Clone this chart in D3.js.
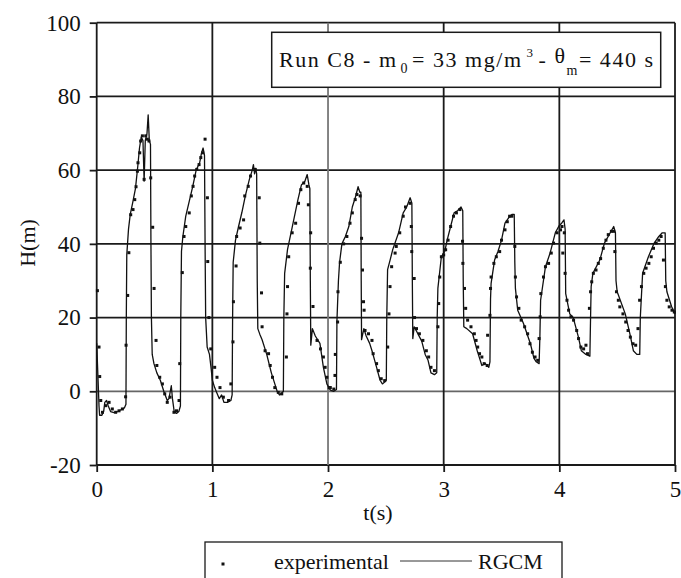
<!DOCTYPE html>
<html>
<head>
<meta charset="utf-8">
<script src="https://cdn.jsdelivr.net/npm/d3@7"></script>
<style>
  body { margin: 0; background: #fff; }
  svg text { font-family: "Liberation Serif", "Tinos", "DejaVu Serif", "Noto Serif", serif; fill: #111; }
</style>
</head>
<body>
<div id="chart"></div>
<script>
// tick values
const xTicks = [0, 1, 2, 3, 4, 5];
const yTicks = [-20, 0, 20, 40, 60, 80, 100];

// RGCM model curve, [t (s), H (m)]
const rgcm = [
  [0.000,13],[0.012,3],[0.02,-4],[0.025,-6.5],[0.045,-6.5],[0.06,-5.5],[0.07,-3],[0.085,-2.5],[0.10,-4],[0.12,-5.5],[0.15,-5.8],[0.18,-5.5],[0.21,-5],[0.24,-4.5],[0.253,-3.5],
  [0.256,20],[0.26,37],[0.275,44],[0.29,48],[0.31,51],[0.335,55],[0.355,61],[0.37,66],[0.385,69],[0.40,68],[0.41,57],[0.42,68],[0.435,70],[0.445,75],[0.455,68],[0.465,67],
  [0.469,40],[0.473,20],[0.48,10],[0.495,7.5],[0.52,5],[0.55,3],[0.58,0],[0.61,-2.5],[0.625,-2],[0.645,1.5],[0.655,-2],[0.67,-5.5],[0.69,-6],[0.71,-5.5],[0.724,-4],
  [0.727,20],[0.733,38],[0.745,42],[0.77,47.5],[0.80,51.5],[0.83,55.5],[0.86,60],[0.89,62],[0.905,64.5],[0.92,66],[0.932,64],
  [0.937,40],[0.942,20],[0.955,12],[0.975,10],[0.99,6],[1.00,3],[1.02,1],[1.04,-0.5],[1.06,-2],[1.08,-1],[1.10,-3],[1.13,-3],[1.16,-2.5],[1.171,-1],
  [1.175,20],[1.18,35],[1.20,41],[1.225,44.5],[1.255,48.5],[1.285,53],[1.32,57.5],[1.345,60],[1.355,61.5],[1.365,59],[1.375,60.5],[1.383,59],
  [1.388,30],[1.393,17],[1.41,15.5],[1.43,14],[1.47,10],[1.51,5],[1.54,2],[1.56,0],[1.58,-1],[1.60,-0.5],[1.614,0],
  [1.618,20],[1.625,32],[1.65,38.5],[1.69,44.5],[1.74,52],[1.77,56],[1.80,57],[1.82,58.8],[1.835,56],[1.843,55],
  [1.847,30],[1.851,12.5],[1.865,17],[1.89,15],[1.93,13],[1.96,6.5],[1.99,2],[2.02,0.3],[2.05,0],[2.073,0.5],
  [2.077,19],[2.09,30],[2.10,35],[2.12,40],[2.15,42],[2.18,44.7],[2.21,50],[2.24,53],[2.26,55.5],[2.275,54],[2.284,54],
  [2.287,30],[2.29,14],[2.31,17],[2.33,15],[2.36,13],[2.38,11],[2.42,6.5],[2.45,3],[2.47,2],[2.49,2.5],[2.504,3],
  [2.508,20],[2.515,33],[2.54,36],[2.56,38.5],[2.61,43],[2.65,48.4],[2.68,50],[2.71,52.5],[2.725,51],
  [2.729,30],[2.733,14.3],[2.745,17.5],[2.77,16],[2.81,13.6],[2.84,10],[2.865,8.4],[2.89,5],[2.92,4.5],[2.94,5],
  [2.944,20],[2.95,28],[2.98,36.5],[3.01,38],[3.03,41],[3.06,44.7],[3.09,48.4],[3.12,49],[3.15,50],[3.165,49],
  [3.169,30],[3.174,17.5],[3.20,17],[3.25,15.6],[3.29,11],[3.31,9],[3.33,7],[3.36,7.5],[3.39,6.5],[3.40,8],
  [3.405,25],[3.41,29.3],[3.44,35.6],[3.47,38],[3.50,41],[3.53,45.6],[3.56,47],[3.59,48],[3.61,48],
  [3.615,35],[3.62,28],[3.64,22],[3.69,18.4],[3.75,12.9],[3.78,9],[3.80,8],[3.825,7.5],
  [3.832,15],[3.838,24.7],[3.88,33.8],[3.92,37.5],[3.965,43],[4.00,45],[4.02,45.6],[4.04,46.5],[4.05,44],
  [4.055,26.5],[4.09,21],[4.12,20],[4.165,14.7],[4.19,11],[4.23,10],[4.264,9.5],
  [4.27,20],[4.275,28.4],[4.29,32],[4.35,35.6],[4.39,40.2],[4.44,43],[4.47,44.7],[4.485,43],
  [4.49,30],[4.50,27],[4.57,21],[4.61,15.6],[4.64,11],[4.67,10],[4.695,10],
  [4.70,20],[4.72,32],[4.77,36.5],[4.82,40.2],[4.86,42],[4.89,43],[4.915,43],
  [4.92,30],[4.93,27],[4.97,23],[5.0,21]
];

// experimental points, [t (s), H (m)]
const experimental = [
  [0.006,27.3],[0.02,12],[0.026,4],[0.035,-2.5],[0.05,-5.7],[0.078,-3.9],[0.107,-3],[0.135,-4.8],[0.164,-5.7],[0.193,-5.3],[0.222,-4.8],
  [0.25,-1.5],[0.254,12.5],[0.268,26],[0.278,37.6],[0.294,47.9],[0.314,49.3],[0.329,52],[0.34,55.5],[0.352,59.7],[0.357,62],[0.372,64.7],
  [0.38,67.9],[0.395,69.3],[0.41,57.5],[0.424,69.3],[0.438,68.4],[0.452,67.9],[0.467,57.9],[0.484,44.5],[0.496,27.9],[0.513,13.8],[0.52,7],
  [0.545,3.8],[0.568,2],[0.588,-0.7],[0.61,-3],[0.634,-1.6],[0.668,-5.7],[0.69,-5.3],[0.712,-2.5],[0.718,7.5],[0.74,32.2],[0.755,42],
  [0.77,44.7],[0.8,48.4],[0.818,53],[0.833,55.6],[0.847,58.4],[0.865,60.2],[0.885,61.5],[0.9,63.4],[0.916,64.7],[0.937,68.4],
  [0.957,52.5],[0.96,35.2],[0.97,20],[0.986,11.5],
  [1.02,6.5],[1.04,3.8],[1.066,1],[1.095,-1.6],[1.14,-2.5],[1.16,2],[1.178,13.4],[1.182,24.3],[1.205,34],[1.21,42],[1.24,44.3],
  [1.27,46.5],[1.28,53],[1.31,55.6],[1.33,58.4],[1.37,60.2],[1.405,52.5],[1.41,40.2],[1.425,26.7],[1.43,17.5],[1.456,11],[1.486,10.2],
  [1.5,7],[1.52,3.8],[1.54,1],[1.57,-0.3],[1.6,-0.7],[1.64,9.3],[1.645,21],[1.65,28.4],[1.66,36.5],[1.69,43],[1.72,45.6],[1.745,51],
  [1.765,54.7],[1.79,56.5],[1.82,55.6],[1.83,50.6],[1.85,43],[1.847,33.4],[1.87,23],[1.905,13.8],[1.935,11.5],[1.96,9.3],[1.975,6.5],
  [1.99,3.8],[2.01,1],
  [2.02,1],[2.05,0.6],[2.06,4.3],[2.063,10],[2.083,18.8],[2.086,27],[2.106,35],[2.135,40],[2.163,42],[2.19,45.6],[2.21,48.4],[2.235,52],
  [2.25,53.4],[2.278,53],[2.29,41.5],[2.298,32.9],[2.307,24.3],[2.312,22],[2.32,16.5],[2.35,15.6],[2.38,13.8],[2.39,10.2],[2.42,7.5],
  [2.435,5.6],[2.46,3.4],[2.49,2.9],[2.516,12],[2.527,21],[2.536,28.4],[2.55,33.8],[2.58,37.5],[2.59,39.3],[2.62,43],[2.65,47.5],
  [2.67,50],[2.71,51],[2.72,44.7],[2.724,37.9],[2.745,30.6],[2.748,20],[2.765,17],[2.79,15.6],[2.82,13.8],[2.85,11],[2.87,9.3],
  [2.89,6.5],[2.92,5.6],[2.95,17.5],[2.957,23.8],[2.966,31],[2.98,36.5],[3.0,37],
  [3.017,38.4],[3.038,41],[3.06,44.7],[3.085,47.5],[3.11,48.4],[3.14,49.3],[3.163,40.7],[3.166,34.7],[3.18,27.9],[3.19,22.5],[3.207,19.3],
  [3.236,17.5],[3.265,15.6],[3.28,13.8],[3.294,12],[3.31,10.2],[3.33,9.3],[3.35,7.5],[3.376,7],[3.38,15.2],[3.4,20.6],[3.405,27.9],
  [3.41,31],[3.434,34.7],[3.455,36.5],[3.484,37.9],[3.5,41],[3.53,43.8],[3.55,46],[3.57,47.5],[3.59,47.5],[3.615,39.3],[3.62,31],
  [3.63,25.6],[3.65,22.5],[3.67,19.3],[3.7,17.5],[3.726,15.6],[3.746,12.9],[3.767,10.6],[3.79,9.3],[3.813,8.4],[3.825,14.3],[3.834,20.2],
  [3.84,26.5],[3.863,31],[3.88,33.8],[3.907,34.7],[3.93,37.5],[3.95,40.2],[3.98,43],[4.01,43.8],
  [4.023,44.7],[4.043,43],[4.03,37.5],[4.05,32],[4.066,24.7],[4.08,22],[4.1,20.2],[4.123,19.3],[4.15,16.5],[4.166,14.3],[4.186,12],
  [4.21,11.5],[4.23,12.5],[4.243,10.2],[4.26,22.5],[4.27,27],[4.28,29.7],[4.294,32],[4.317,32.9],[4.337,34.7],[4.357,36],[4.38,38.8],
  [4.403,41],[4.423,42.5],[4.45,43.4],[4.47,43.4],[4.48,37.9],[4.494,27],[4.51,24.7],[4.523,22.9],[4.55,21],[4.574,18.8],[4.594,16.5],
  [4.614,14.7],[4.637,12.9],[4.66,12.5],[4.68,17],[4.694,24.7],[4.71,28.4],[4.73,32],[4.75,33.4],[4.774,34.7],[4.794,36.5],[4.814,38.8],
  [4.837,40.2],[4.86,41],[4.88,42],[4.9,35.6],[4.917,28.4],[4.93,24.7],[4.95,22.9],[4.974,22],[4.994,21.5]
];

const width = 681, height = 578;
const margin = {top: 22.7, right: 6, bottom: 113, left: 96.7};

const svg = d3.select("#chart")
  .append("svg")
  .attr("width", width)
  .attr("height", height);

// scales
const x = d3.scaleLinear().domain([0, 5]).range([margin.left, width - margin.right]);
const y = d3.scaleLinear().domain([-20, 100]).range([height - margin.bottom, margin.top]);

// grid (also forms the frame)
svg.append("g")
  .selectAll("line")
  .data(yTicks)
  .join("line")
    .attr("x1", x(0)).attr("x2", x(5))
    .attr("y1", d => y(d)).attr("y2", d => y(d))
    .attr("stroke", d => d === 0 ? "#666" : "#1a1a1a")
    .attr("stroke-width", 1.8);

svg.append("g")
  .selectAll("line")
  .data(xTicks)
  .join("line")
    .attr("x1", d => x(d)).attr("x2", d => x(d))
    .attr("y1", y(-20)).attr("y2", y(100))
    .attr("stroke", d => d === 2 ? "#777" : "#1a1a1a")
    .attr("stroke-width", 1.8);

// axes
const xAxis = svg.append("g")
  .attr("transform", `translate(0,${y(-20)})`)
  .call(d3.axisBottom(x).tickValues(xTicks).tickSize(7).tickPadding(9).tickFormat(d3.format("d")));
const yAxis = svg.append("g")
  .attr("transform", `translate(${x(0)},0)`)
  .call(d3.axisLeft(y).tickValues(yTicks).tickSize(7).tickPadding(9).tickFormat(d => String(d)));

[xAxis, yAxis].forEach(g => {
  g.attr("font-family", null);
  g.select(".domain").remove();
  g.selectAll(".tick line").attr("stroke", "#1a1a1a").attr("stroke-width", 1.8);
  g.selectAll(".tick text")
    .attr("font-size", "23px")
    .attr("fill", "#111");
});

// axis titles
svg.append("text")
  .attr("x", 378).attr("y", 520)
  .attr("text-anchor", "middle")
  .attr("font-size", "22px")
  .text("t(s)");

svg.append("text")
  .attr("transform", "translate(35,243) rotate(-90)")
  .attr("text-anchor", "middle")
  .attr("font-size", "22px")
  .text("H(m)");

// RGCM line
svg.append("path")
  .datum(rgcm)
  .attr("fill", "none")
  .attr("stroke", "#111")
  .attr("stroke-width", 1.3)
  .attr("stroke-linejoin", "round")
  .attr("d", d3.line().x(d => x(d[0])).y(d => y(d[1])));

// experimental dots
svg.append("g")
  .selectAll("rect")
  .data(experimental)
  .join("rect")
    .attr("x", d => x(d[0]) - 1.5)
    .attr("y", d => y(d[1]) - 1.5)
    .attr("width", 3)
    .attr("height", 3)
    .attr("fill", "#111");

// run label box
svg.append("rect")
  .attr("x", 271.7).attr("y", 32.3)
  .attr("width", 389).attr("height", 55)
  .attr("fill", "#fff")
  .attr("stroke", "#1a1a1a")
  .attr("stroke-width", 1.5);

const title = svg.append("text")
  .attr("x", 279).attr("y", 67)
  .attr("font-size", "22px")
  .attr("textLength", 374)
  .attr("lengthAdjust", "spacing");
title.append("tspan").text("Run C8 - m");
title.append("tspan").attr("dx", 3).attr("dy", 6).attr("font-size", "14px").text("0");
title.append("tspan").attr("dx", 3).attr("dy", -6).text("= 33 mg/m");
title.append("tspan").attr("dx", 4).attr("dy", -10).attr("font-size", "13px").text("3");
title.append("tspan").attr("dx", 4).attr("dy", 10).text("- ");
title.append("tspan").attr("dy", -4).text("θ");
title.append("tspan").attr("dy", 12).attr("font-size", "14px").text("m");
title.append("tspan").attr("dy", -8).text("= 440 s");

// legend
const legend = svg.append("g");
legend.append("rect")
  .attr("x", 205).attr("y", 542)
  .attr("width", 357).attr("height", 60)
  .attr("fill", "#fff")
  .attr("stroke", "#1a1a1a")
  .attr("stroke-width", 1.3);
legend.append("rect")
  .attr("x", 221.5).attr("y", 562.5)
  .attr("width", 3).attr("height", 3)
  .attr("fill", "#111");
legend.append("text")
  .attr("x", 274).attr("y", 569)
  .attr("font-size", "22px")
  .text("experimental");
legend.append("line")
  .attr("x1", 400).attr("x2", 472)
  .attr("y1", 561).attr("y2", 561)
  .attr("stroke", "#333")
  .attr("stroke-width", 1);
legend.append("text")
  .attr("x", 478).attr("y", 569)
  .attr("font-size", "22px")
  .text("RGCM");
</script>
</body>
</html>
